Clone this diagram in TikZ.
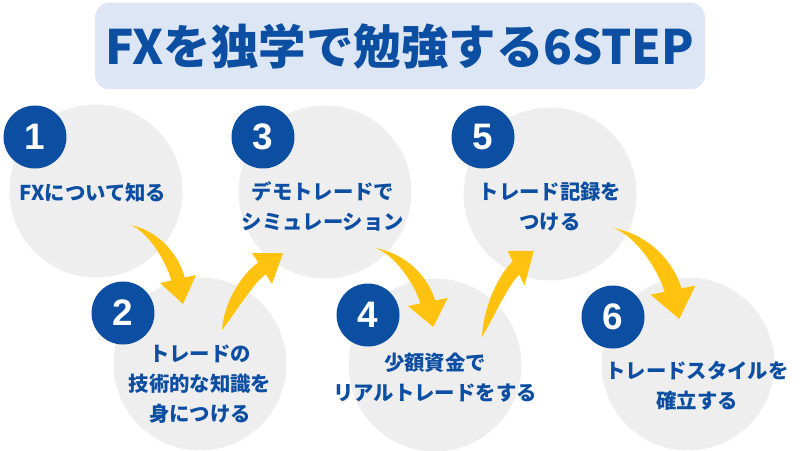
\documentclass[tikz,border=0pt]{standalone}
\usepackage{fontspec}
\setmainfont{Noto Sans CJK JP}
\newfontfamily\numfont{Liberation Sans}
\usetikzlibrary{positioning,calc}

\definecolor{stepblue}{HTML}{0B4EA2}
\definecolor{titlebg}{HTML}{DCE6F4}
\definecolor{circgray}{HTML}{EEEEEF}
\definecolor{arrowyel}{HTML}{FFC20E}

\tikzset{
  dnarrow/.pic={\fill[arrowyel] (0,0) .. controls (22,4) and (46,22) .. (54.8,52.5) -- (66,50) -- (53,79) -- (30,58) -- (41.2,55.5) .. controls (37,38) and (18,6) .. cycle;},
  uparrow/.pic={\fill[arrowyel] (0,0) .. controls (2,-30) and (22,-58) .. (36.2,-67.4) -- (30,-77) -- (61,-77) -- (50,-46) -- (43.8,-55.6) .. controls (32,-48) and (14,-18) .. cycle;}
}

\begin{document}
\begin{tikzpicture}[x=0.02cm,y=-0.02cm,font=\bfseries,
  titlebox/.style={rectangle,rounded corners=0.3cm,fill=titlebg,text=stepblue,minimum width=12.2cm,minimum height=1.74cm,font=\fontsize{27}{30}\selectfont\bfseries},
  stepcirc/.style={circle,fill=circgray,minimum size=3.46cm,inner sep=0pt},
  badge/.style={circle,fill=stepblue,text=white,minimum size=1.26cm,inner sep=0pt,font=\numfont\fontsize{21}{21}\selectfont\bfseries},
  steptext/.style={align=center,text=stepblue,font=\fontsize{11.6}{17}\selectfont\bfseries}]
\useasboundingbox (0,0) rectangle (800,450);
\node[titlebox](title) at (400,46){FXを独学で勉強する6STEP};
% step circles
\node[stepcirc](s1) at (96,191){};
\node[stepcirc](s2) at (200,364){};
\node[stepcirc](s3) at (325,192){};
\node[stepcirc](s4) at (435,365){};
\node[stepcirc](s5) at (550,194){};
\node[stepcirc](s6) at (688,364){};
% arrows between steps
\path ($(s1)+(34,34)$) pic{dnarrow};
\path ($(s2)+(22,-34)$) pic{uparrow};
\path ($(s3)+(50,56)$) pic[xscale=1.1]{dnarrow};
\path ($(s4)+(47,-28)$) pic[xscale=0.85,yscale=1.12]{uparrow};
\path ($(s5)+(63,34)$) pic[xscale=1.25,yscale=1.15]{dnarrow};
% numbers
\node[badge](b1) at (35,137){1};
\node[badge](b2) at (123,313){2};
\node[badge](b3) at (263,137){3};
\node[badge](b4) at (368,315){4};
\node[badge](b5) at (483,137){5};
\node[badge](b6) at (613,317){6};
% labels
\node[steptext](t1) at (93,193){FXについて知る};
\node[steptext](t2) at (200,384){トレードの\\技術的な知識を\\身につける};
\node[steptext](t3) at (323,206){デモトレードで\\シミュレーション};
\node[steptext](t4) at (435,378){少額資金で\\リアルトレードをする};
\node[steptext](t5) at (550,207){トレード記録を\\つける};
\node[steptext](t6) at (697,386){トレードスタイルを\\確立する};
\end{tikzpicture}
\end{document}
